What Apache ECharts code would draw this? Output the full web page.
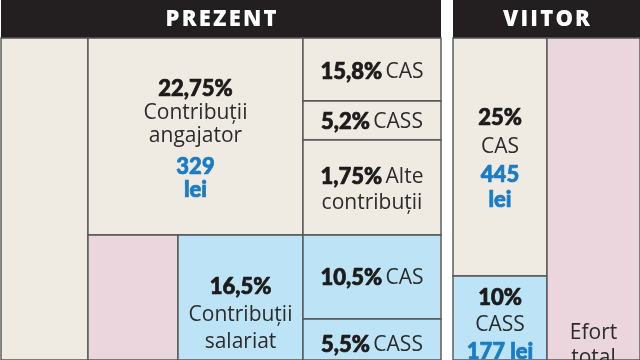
<!DOCTYPE html>
<html>
<head>
<meta charset="utf-8">
<script src="https://cdn.jsdelivr.net/npm/echarts@6/dist/echarts.min.js"></script>
<style>
html,body{margin:0;padding:0;background:#ffffff;}
#chart{width:640px;height:360px;}
</style>
</head>
<body>
<div id="chart"></div>
<script>
// ---- data ----
const headerLabels = ['PREZENT', 'VIITOR'];
const percentLabels = ['22,75%', '15,8%', '5,2%', '1,75%', '16,5%', '10,5%', '5,5%', '25%', '10%'];
const nameLabels = ['Contribuții angajator', 'CAS', 'CASS', 'Alte contribuții', 'Contribuții salariat', 'CAS', 'CASS', 'CAS', 'CASS'];
const leiValues = [329, null, null, null, null, null, null, 445, 177];
const leiUnit = 'lei';
const noteLabel = 'Efort total';

// ---- layout (axis units) ----
const colEdges = [1, 88, 178, 303, 441, 453, 547, 640];
const rowEdges = [0, 38, 101, 140, 235, 276, 319, 360];
const palette = { header: '#231f20', beige: '#efebe3', pink: '#ebd6de', blue: '#bde4f6', border: '#555555', value: '#1b7cc6', bold: '#1c1a1a', text: '#2b2b2b' };

// cells: column span, row span, fill
const cellSpans = [
  { c: [0, 4], r: [0, 1], fill: 'header', header: 0 },
  { c: [5, 7], r: [0, 1], fill: 'header', header: 1 },
  { c: [0, 1], r: [1, 7], fill: 'beige' },
  { c: [1, 3], r: [1, 4], fill: 'beige', k: 0, mode: 'stack', split: true, lineY: [89, 113, 136, 167, 190] },
  { c: [1, 2], r: [4, 7], fill: 'pink' },
  { c: [2, 3], r: [4, 7], fill: 'blue', k: 4, mode: 'stack', lineY: [287, 315, 342] },
  { c: [3, 4], r: [1, 2], fill: 'beige', k: 1, mode: 'inline', lineY: [72] },
  { c: [3, 4], r: [2, 3], fill: 'beige', k: 2, mode: 'inline', lineY: [122] },
  { c: [3, 4], r: [3, 4], fill: 'beige', k: 3, mode: 'inline', lineY: [177, 203] },
  { c: [3, 4], r: [4, 6], fill: 'blue', k: 5, mode: 'inline', lineY: [278] },
  { c: [3, 4], r: [6, 7], fill: 'blue', k: 6, mode: 'inline', lineY: [345] },
  { c: [5, 6], r: [1, 5], fill: 'beige', k: 7, mode: 'stack', split: true, lineY: [118, 147, 175, 200] },
  { c: [5, 6], r: [5, 7], fill: 'blue', k: 8, mode: 'stack', split: false, lineY: [298, 325, 352] },
  { c: [6, 7], r: [1, 7], fill: 'pink', note: true, lineY: [333, 358] }
];

const styles = {
  b: { font: '900 22px Lato, "Noto Sans", sans-serif', fill: palette.bold, stroke: palette.bold, lineWidth: 0.7 },
  r: { font: '400 21px "Open Sans", sans-serif', fill: palette.text },
  v: { font: '900 22px Lato, "Noto Sans", sans-serif', fill: palette.value, stroke: palette.value, lineWidth: 0.7 },
  h: { font: '800 22px "Open Sans", sans-serif', fill: '#ffffff' }
};

function spaced(s) { return s.split('').join('\u200A'); }

function buildLines(cell) {
  if (cell.header !== undefined) return [{ kind: 'h', text: spaced(headerLabels[cell.header]) }];
  if (cell.note) return noteLabel.split(' ').map(w => ({ kind: 'r', text: w }));
  if (cell.k === undefined) return [];
  const k = cell.k;
  const words = nameLabels[k].split(' ');
  const out = [];
  if (cell.mode === 'inline') {
    out.push({ kind: 'rich', text: '{b|' + percentLabels[k] + '} {r|' + words[0] + '}' });
    words.slice(1).forEach(w => out.push({ kind: 'r', text: w }));
  } else {
    out.push({ kind: 'b', text: percentLabels[k] });
    words.forEach(w => out.push({ kind: 'r', text: w }));
    if (leiValues[k] != null) {
      if (cell.split) { out.push({ kind: 'v', text: String(leiValues[k]) }); out.push({ kind: 'v', text: leiUnit }); }
      else out.push({ kind: 'v', text: leiValues[k] + ' ' + leiUnit });
    }
  }
  return out;
}

const seriesData = cellSpans.map((c, i) => [colEdges[c.c[0]], colEdges[c.c[1]], rowEdges[c.r[0]], rowEdges[c.r[1]], i]);

function renderItem(params, api) {
  const x0 = api.value(0), x1 = api.value(1), y0 = api.value(2), y1 = api.value(3);
  const cell = cellSpans[api.value(4)];
  const p0 = api.coord([x0, y0]);
  const p1 = api.coord([x1, y1]);
  const children = [{
    type: 'rect',
    shape: { x: p0[0], y: p0[1], width: p1[0] - p0[0], height: p1[1] - p0[1] },
    style: { fill: palette[cell.fill], stroke: cell.fill === 'header' ? null : palette.border, lineWidth: cell.fill === 'header' ? 0 : 1.4 }
  }];
  const cx = (p0[0] + p1[0]) / 2;
  const lines = buildLines(cell);
  lines.forEach((ln, j) => {
    let y;
    if (cell.header !== undefined) y = (p0[1] + p1[1]) / 2 + 1;
    else y = api.coord([x0, cell.lineY[j]])[1];
    const st = { x: cx, y: y, align: 'center', verticalAlign: 'middle' };
    if (ln.kind === 'rich') {
      st.text = ln.text;
      st.rich = {
        b: { font: styles.b.font, fill: styles.b.fill, stroke: styles.b.stroke, lineWidth: styles.b.lineWidth },
        r: { font: styles.r.font, fill: styles.r.fill }
      };
    } else {
      const s = styles[ln.kind];
      st.text = ln.text;
      st.font = s.font;
      st.fill = s.fill;
      if (s.stroke) { st.stroke = s.stroke; st.lineWidth = s.lineWidth; }
    }
    children.push({ type: 'text', style: st });
  });
  return { type: 'group', children: children };
}

const chart = echarts.init(document.getElementById('chart'), null, { renderer: 'canvas' });
chart.setOption({
  animation: false,
  backgroundColor: '#ffffff',
  grid: { left: 0, right: 0, top: 0, bottom: 0 },
  xAxis: { type: 'value', min: 0, max: 640, show: false },
  yAxis: { type: 'value', min: 0, max: 360, inverse: true, show: false },
  series: [{ type: 'custom', renderItem: renderItem, data: seriesData, clip: true }]
});
</script>
</body>
</html>
